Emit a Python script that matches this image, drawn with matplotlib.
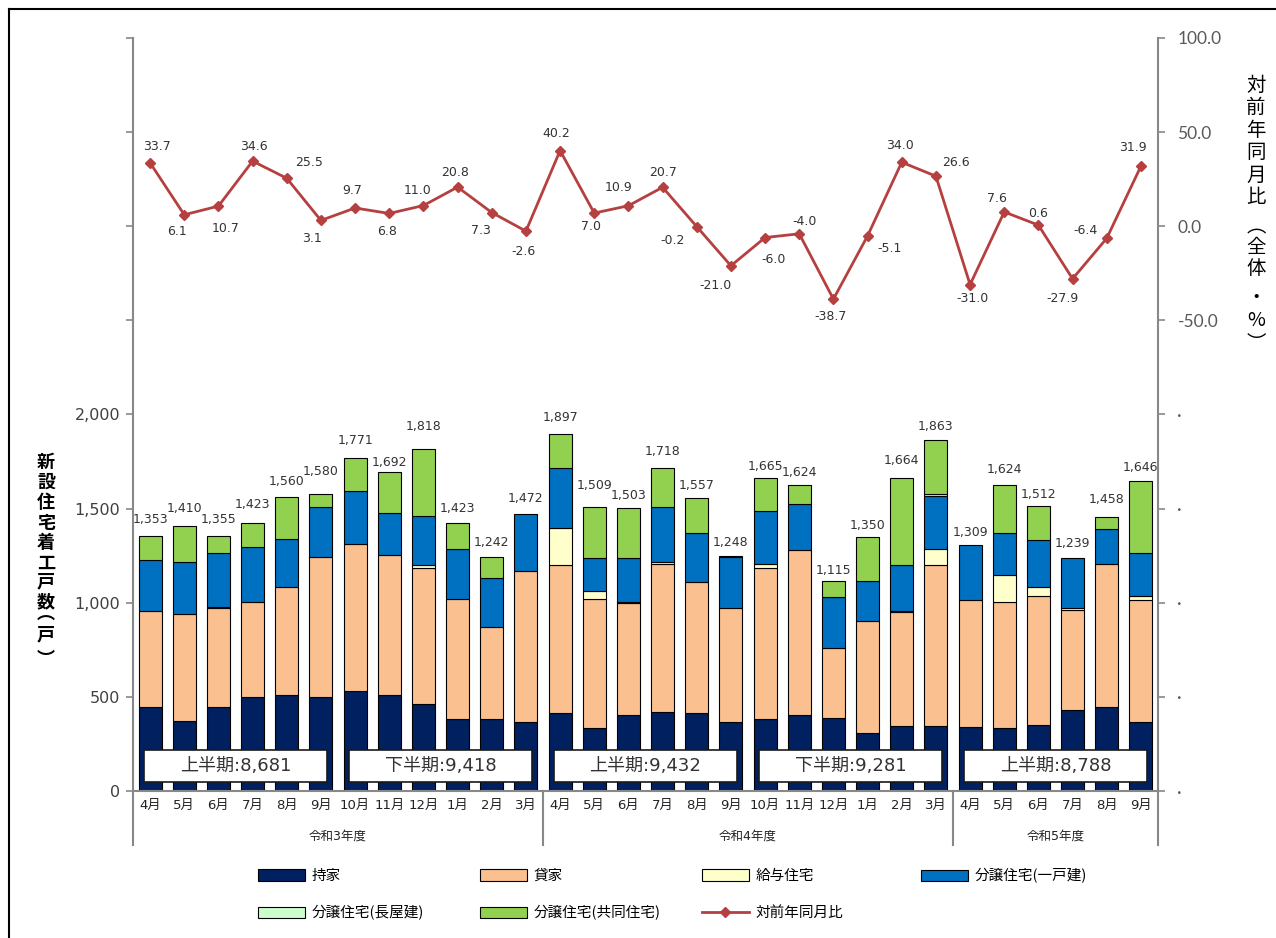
import numpy as np
import matplotlib
matplotlib.use("Agg")
import matplotlib.pyplot as plt
from matplotlib.patches import Rectangle, Patch
from matplotlib.lines import Line2D

plt.rcParams["font.family"] = ["DejaVu Sans", "Noto Sans CJK JP"]

# ---------------- data ----------------
months = ["4月", "5月", "6月", "7月", "8月", "9月", "10月", "11月", "12月", "1月", "2月", "3月",
          "4月", "5月", "6月", "7月", "8月", "9月", "10月", "11月", "12月", "1月", "2月", "3月",
          "4月", "5月", "6月", "7月", "8月", "9月"]
fiscal_years = ["令和3年度", "令和4年度", "令和5年度"]
fiscal_year_lengths = [12, 12, 6]
half_names = ["上半期", "下半期", "上半期", "下半期", "上半期"]

owner_occupied = [446, 374, 446, 497, 508, 497, 533, 508, 464, 382, 382, 364,
                  414, 334, 405, 419, 414, 369, 382, 405, 390, 307, 346, 346,
                  339, 334, 351, 432, 444, 369]
rental = [511, 566, 527, 508, 578, 746, 781, 743, 720, 638, 488, 807,
          788, 686, 593, 788, 695, 603, 802, 873, 371, 597, 606, 857,
          675, 668, 683, 531, 763, 645]
employee_housing = [0, 0, 5, 0, 0, 0, 0, 0, 14, 0, 0, 0,
                    197, 44, 5, 8, 0, 0, 20, 0, 0, 0, 5, 80,
                    0, 143, 52, 9, 0, 23]
sale_detached = [268, 276, 288, 291, 251, 267, 280, 227, 264, 263, 260, 301,
                 316, 173, 234, 291, 262, 273, 283, 244, 268, 210, 246, 284,
                 295, 226, 246, 267, 187, 229]
sale_row_house = [0, 0, 0, 0, 0, 0, 0, 0, 0, 0, 0, 0,
                  0, 0, 0, 0, 0, 0, 0, 0, 4, 0, 0, 10,
                  0, 0, 0, 0, 0, 0]
sale_condo = [128, 194, 89, 127, 223, 70, 177, 214, 356, 140, 112, 0,
              182, 272, 266, 212, 186, 3, 178, 102, 82, 236, 461, 286,
              0, 253, 180, 0, 64, 380]
totals = [1353, 1410, 1355, 1423, 1560, 1580, 1771, 1692, 1818, 1423, 1242, 1472,
          1897, 1509, 1503, 1718, 1557, 1248, 1665, 1624, 1115, 1350, 1664, 1863,
          1309, 1624, 1512, 1239, 1458, 1646]
yoy_change = [33.7, 6.1, 10.7, 34.6, 25.5, 3.1, 9.7, 6.8, 11.0, 20.8, 7.3, -2.6,
              40.2, 7.0, 10.9, 20.7, -0.2, -21.0, -6.0, -4.0, -38.7, -5.1, 34.0, 26.6,
              -31.0, 7.6, 0.6, -27.9, -6.4, 31.9]

series_names = ["持家", "貸家", "給与住宅", "分譲住宅(一戸建)", "分譲住宅(長屋建)", "分譲住宅(共同住宅)"]
series_values = [owner_occupied, rental, employee_housing, sale_detached, sale_row_house, sale_condo]
series_colors = ["#002060", "#FAC090", "#FFFFCC", "#0070C0", "#CCFFCC", "#92D050"]
line_name = "対前年同月比"
line_color = "#B5403F"

# axis titles written top to bottom, brackets in their vertical forms
left_title = ["新", "設", "住", "宅", "着", "工", "戸", "数", "︵", "戸", "︶"]
right_title = ["対", "前", "年", "同", "月", "比", "︵", "全", "体", "・", "%", "︶"]

# label placement (pixels): gap above bar tops, offsets of the % labels
bar_label_gap = [17, 17, 16, 19, 16, 22, 17, 10, 22, 15, 15, 15,
                 16, 21, 13, 16, 12, 14, 11, 13, 11, 11, 17, 14,
                 12, 16, 12, 14, 17, 14]
yoy_label_offset = [(7, -16), (-7, 17), (7, 22), (1, -15), (22, -16), (-9, 18),
                    (-3, -17), (-2, 18), (-6, -15), (-3, -15), (-11, 18), (-2, 20),
                    (-4, -17), (-3, 13), (-10, -18), (0, -15), (-24, 14), (-15, 20),
                    (8, 22), (5, -12), (-3, 17), (22, 13), (-2, -17), (20, -14),
                    (2, 14), (-7, -13), (0, -12), (-10, 20), (-21, -8), (-8, -19)]

# ---------------- figure ----------------
W, H = 1276, 938
fig = plt.figure(figsize=(W / 100, H / 100), dpi=100)
left_px, right_px, top_px, bottom_px = 133, 1158, 38, 791
ax = fig.add_axes([left_px / W, 1 - bottom_px / H, (right_px - left_px) / W, (bottom_px - top_px) / H])
ax2 = ax.twinx()

x = np.arange(len(months))
base = np.zeros(len(months))
for vals, color in zip(series_values, series_colors):
    v = np.asarray(vals, dtype=float)
    ax.bar(x, v, width=0.67, bottom=base, color=color, edgecolor="black",
           linewidth=np.where(v > 0, 0.8, 0.0), zorder=2)
    base += v

for i, t in enumerate(totals):
    ax.annotate(f"{t:,}", (i, t), xytext=(0, bar_label_gap[i]), textcoords="offset pixels",
                ha="center", va="center", fontsize=9, color="#333333", zorder=5)

ax.set_xlim(-0.5, len(months) - 0.5)
ax.set_ylim(0, 4000)
left_ticks = np.arange(0, 4001, 500)
ax.set_yticks(left_ticks)
ax.set_yticklabels([f"{v:,}" if v <= 2000 else "" for v in left_ticks])
ax.tick_params(axis="y", direction="out", length=5, width=1.2, color="#888888",
               labelcolor="#404040", labelsize=11.5, pad=4)
ax.set_xticks(x)
ax.set_xticklabels(months)
ax.tick_params(axis="x", length=0, pad=6, labelsize=9.5, labelcolor="#222222")
for s in ["top", "right"]:
    ax.spines[s].set_visible(False)
for s in ["left", "bottom"]:
    ax.spines[s].set_color("#888888")
    ax.spines[s].set_linewidth(1.5)

# fiscal-year separators and labels under the month axis
xt = ax.get_xaxis_transform()
bounds = np.concatenate([[0], np.cumsum(fiscal_year_lengths)]) - 0.5
for xb in bounds:
    ax.plot([xb, xb], [0, -0.0717], transform=xt, color="#888888", lw=1.5, clip_on=False)
for k, name in enumerate(fiscal_years):
    ax.text((bounds[k] + bounds[k + 1]) / 2, -0.0598, name, transform=xt,
            ha="center", va="center", fontsize=9, color="#222222")

# half-year totals
for k, name in enumerate(half_names):
    half_sum = sum(totals[6 * k:6 * k + 6])
    c = 6 * k + 2.5
    ax.add_patch(Rectangle((c - 2.68, 0.012), 5.36, 0.0425, transform=xt,
                           facecolor="white", edgecolor="#1a1a1a", lw=1.2, zorder=6))
    ax.text(c, 0.033, f"{name}:{half_sum:,}", transform=xt, ha="center", va="center",
            fontsize=13, color="#333333", zorder=7)

# year-on-year line
ax2.plot(x, yoy_change, color=line_color, lw=2, marker="D", ms=5, zorder=3)
for i, v in enumerate(yoy_change):
    dx, dy = yoy_label_offset[i]
    ax2.annotate(f"{v:.1f}", (i, v), xytext=(dx, -dy), textcoords="offset pixels",
                 ha="center", va="center", fontsize=9, color="#333333")
ax2.set_ylim(-300, 100)
right_ticks = np.arange(-300, 101, 50)
ax2.set_yticks(right_ticks)
ax2.set_yticklabels([f"{v:.1f}" if v >= -50 else "·" for v in right_ticks])
ax2.tick_params(axis="y", direction="out", length=5, width=1.2, color="#888888",
                labelcolor="#595959", labelsize=12.5, pad=9)
for lab in ax2.get_yticklabels():
    lab.set_fontfamily(["Lato", "DejaVu Sans"])
for s in ["top", "left", "bottom"]:
    ax2.spines[s].set_visible(False)
ax2.spines["right"].set_color("#888888")
ax2.spines["right"].set_linewidth(1.5)


def vertical_title(chars, xpx, ypx, size, weight):
    em = size * 100 / 72
    # vertical bracket glyphs sit low (opening) or high (closing) in their em box
    shift = {"︵": -0.25 * em, "︶": 0.42 * em}
    for ch, yp in zip(chars, ypx):
        yp = yp + shift.get(ch, 0.0)
        fig.text(xpx / W, 1 - yp / H, ch, ha="center", va="center", fontsize=size,
                 fontweight=weight, family=["Noto Sans CJK JP", "DejaVu Sans"],
                 color="black")


vertical_title(left_title, 46, [462, 482, 502, 523, 543, 563, 582, 602, 618, 635, 652], 13, "bold")
vertical_title(right_title, 1256, [85, 107, 130, 153, 175, 198, 232, 247, 268, 297, 320, 335],
               14, "normal")

# legend laid out on a fixed grid
handles = [Patch(facecolor=c, edgecolor="black", lw=0.8) for c in series_colors]
handles.append(Line2D([], [], color=line_color, lw=2, marker="D", ms=5))
labels = series_names + [line_name]
legend_pos = [(258, 876), (480, 876), (702, 876), (921, 876),
              (258, 913), (480, 913), (702, 913)]
for h, lab, (lx, ly) in zip(handles, labels, legend_pos):
    fig.legend(handles=[h], labels=[lab], loc="center left",
               bbox_to_anchor=(lx / W, 1 - ly / H), frameon=False, borderpad=0,
               borderaxespad=0, handlelength=3.2, handleheight=0.8, handletextpad=0.5,
               prop={"size": 10.5, "family": ["Noto Sans CJK JP"]})

# outer frame
fig.add_artist(Line2D([9 / W, 1], [1 - 9 / H] * 2, color="black", lw=1.5, transform=fig.transFigure))
fig.add_artist(Line2D([9 / W] * 2, [0, 1 - 9 / H], color="black", lw=1.5, transform=fig.transFigure))

fig.savefig("out.png", dpi=100)
